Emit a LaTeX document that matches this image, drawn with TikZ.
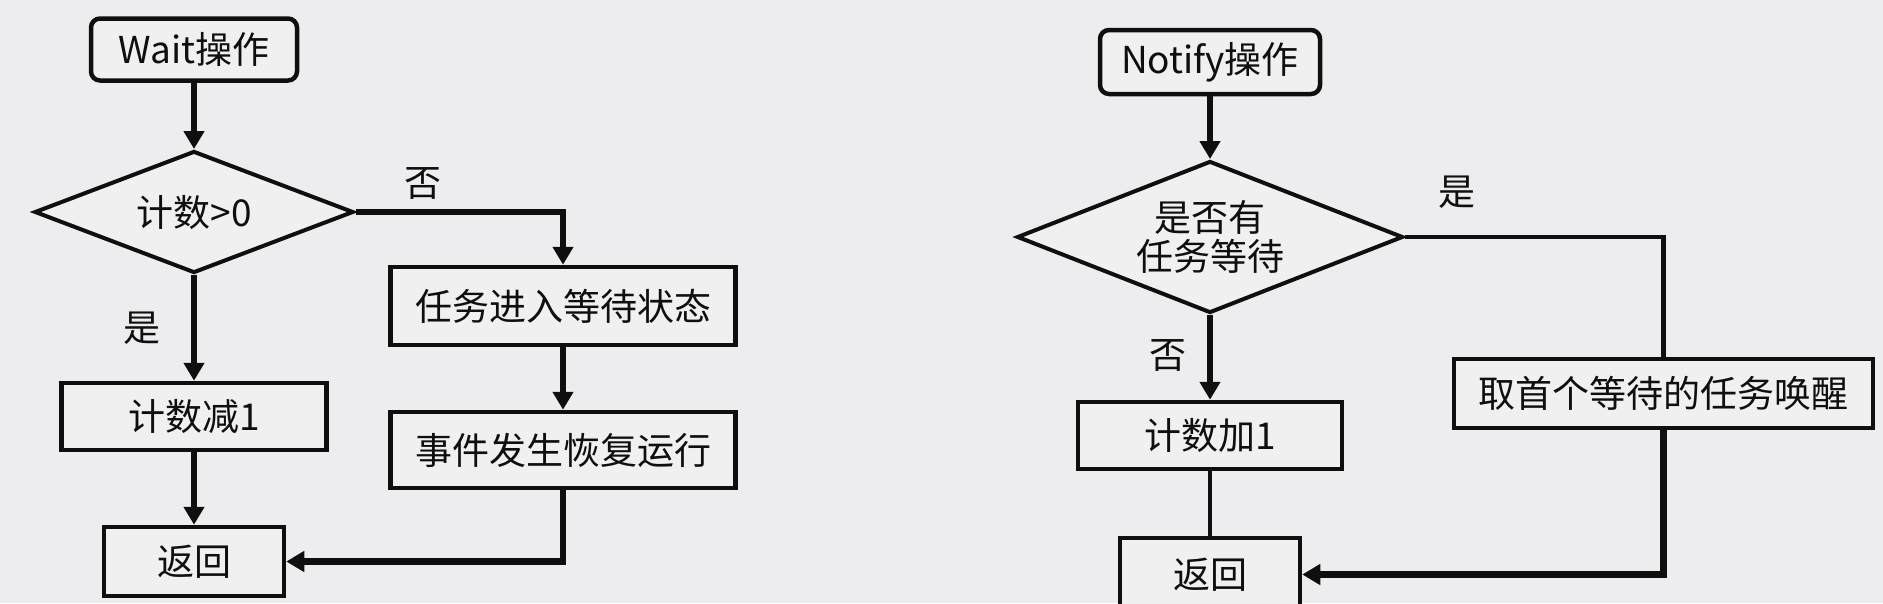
\documentclass[tikz,border=0pt]{standalone}
\usepackage{fontspec}
\setmainfont{Noto Sans CJK SC}
\usetikzlibrary{shapes.geometric,arrows.meta}
\definecolor{bg}{RGB}{237,237,239}
\definecolor{boxfill}{RGB}{240,240,241}
\definecolor{ink}{RGB}{15,15,15}
\tikzset{
  lbl/.style={font=\fontsize{37}{44}\selectfont, text=ink, inner sep=0pt},
  procbox/.style={draw=ink, line width=4.5pt, fill=boxfill, rectangle, inner sep=0pt, font=\fontsize{37}{44}\selectfont, text=ink},
  startbox/.style={procbox, rounded corners=9pt},
  decide/.style={draw=ink, line width=4pt, fill=boxfill, diamond, aspect=2.5, inner sep=0pt, align=center, font=\fontsize{37}{44}\selectfont, text=ink},
  thickarrow/.style={draw=ink, line width=6.5pt, -{Triangle[width=20pt,length=18pt]}},
  thinline/.style={draw=ink, line width=4.5pt},
}
\begin{document}
\begin{tikzpicture}[x=1pt,y=-1pt]
\fill[bg] (0,0) rectangle (1883,603);
\useasboundingbox (0,0) rectangle (1883,603);

% ---------- Wait ----------
\node[startbox, minimum width=206pt, minimum height=62pt] (wait) at (194,49.5) {Wait操作};
\node[decide, minimum width=319pt, minimum height=122pt] (d1) at (194,212) {计数>0};
\node[procbox, minimum width=345pt, minimum height=78pt] (task) at (563,306) {任务进入等待状态};
\node[procbox, minimum width=345pt, minimum height=76pt] (event) at (563,450) {事件发生恢复运行};
\node[procbox, minimum width=265pt, minimum height=67pt] (dec) at (194,416.5) {计数减1};
\node[procbox, minimum width=180pt, minimum height=69pt] (ret1) at (194,561.5) {返回};

\node[lbl] (no1) at (423,183) {否};
\node[lbl] (yes1) at (142,328) {是};

\draw[thickarrow] (wait) -- (d1);
\draw[thickarrow] (d1.east) -| (task.north);
\draw[thickarrow] (task) -- (event);
\draw[thickarrow] (d1) -- (dec);
\draw[thickarrow] (dec) -- (ret1);
\draw[thickarrow] (event.south) |- (ret1.east);

% ---------- Notify ----------
\node[startbox, minimum width=220pt, minimum height=64pt] (notify) at (1210,62) {Notify操作};
\node[decide, minimum width=386pt, minimum height=152pt] (d2) at (1210,237) {是否有\\[-5pt]任务等待};
\node[procbox, minimum width=264pt, minimum height=67pt] (inc) at (1210,435.5) {计数加1};
\node[procbox, minimum width=180pt, minimum height=73pt] (ret2) at (1210,574.5) {返回};
\node[procbox, minimum width=419pt, minimum height=69pt] (wake) at (1663.5,393.5) {取首个等待的任务唤醒};

\node[lbl] (yes2) at (1457,192) {是};
\node[lbl] (no2) at (1168,355) {否};

\draw[thickarrow] (notify) -- (d2);
\draw[thickarrow] (d2) -- (inc);
\draw[thinline] (inc) -- (ret2);
\draw[thinline] (d2.east) -| (wake.north);
\draw[thickarrow] (wake.south) |- (ret2.east);
\end{tikzpicture}
\end{document}
